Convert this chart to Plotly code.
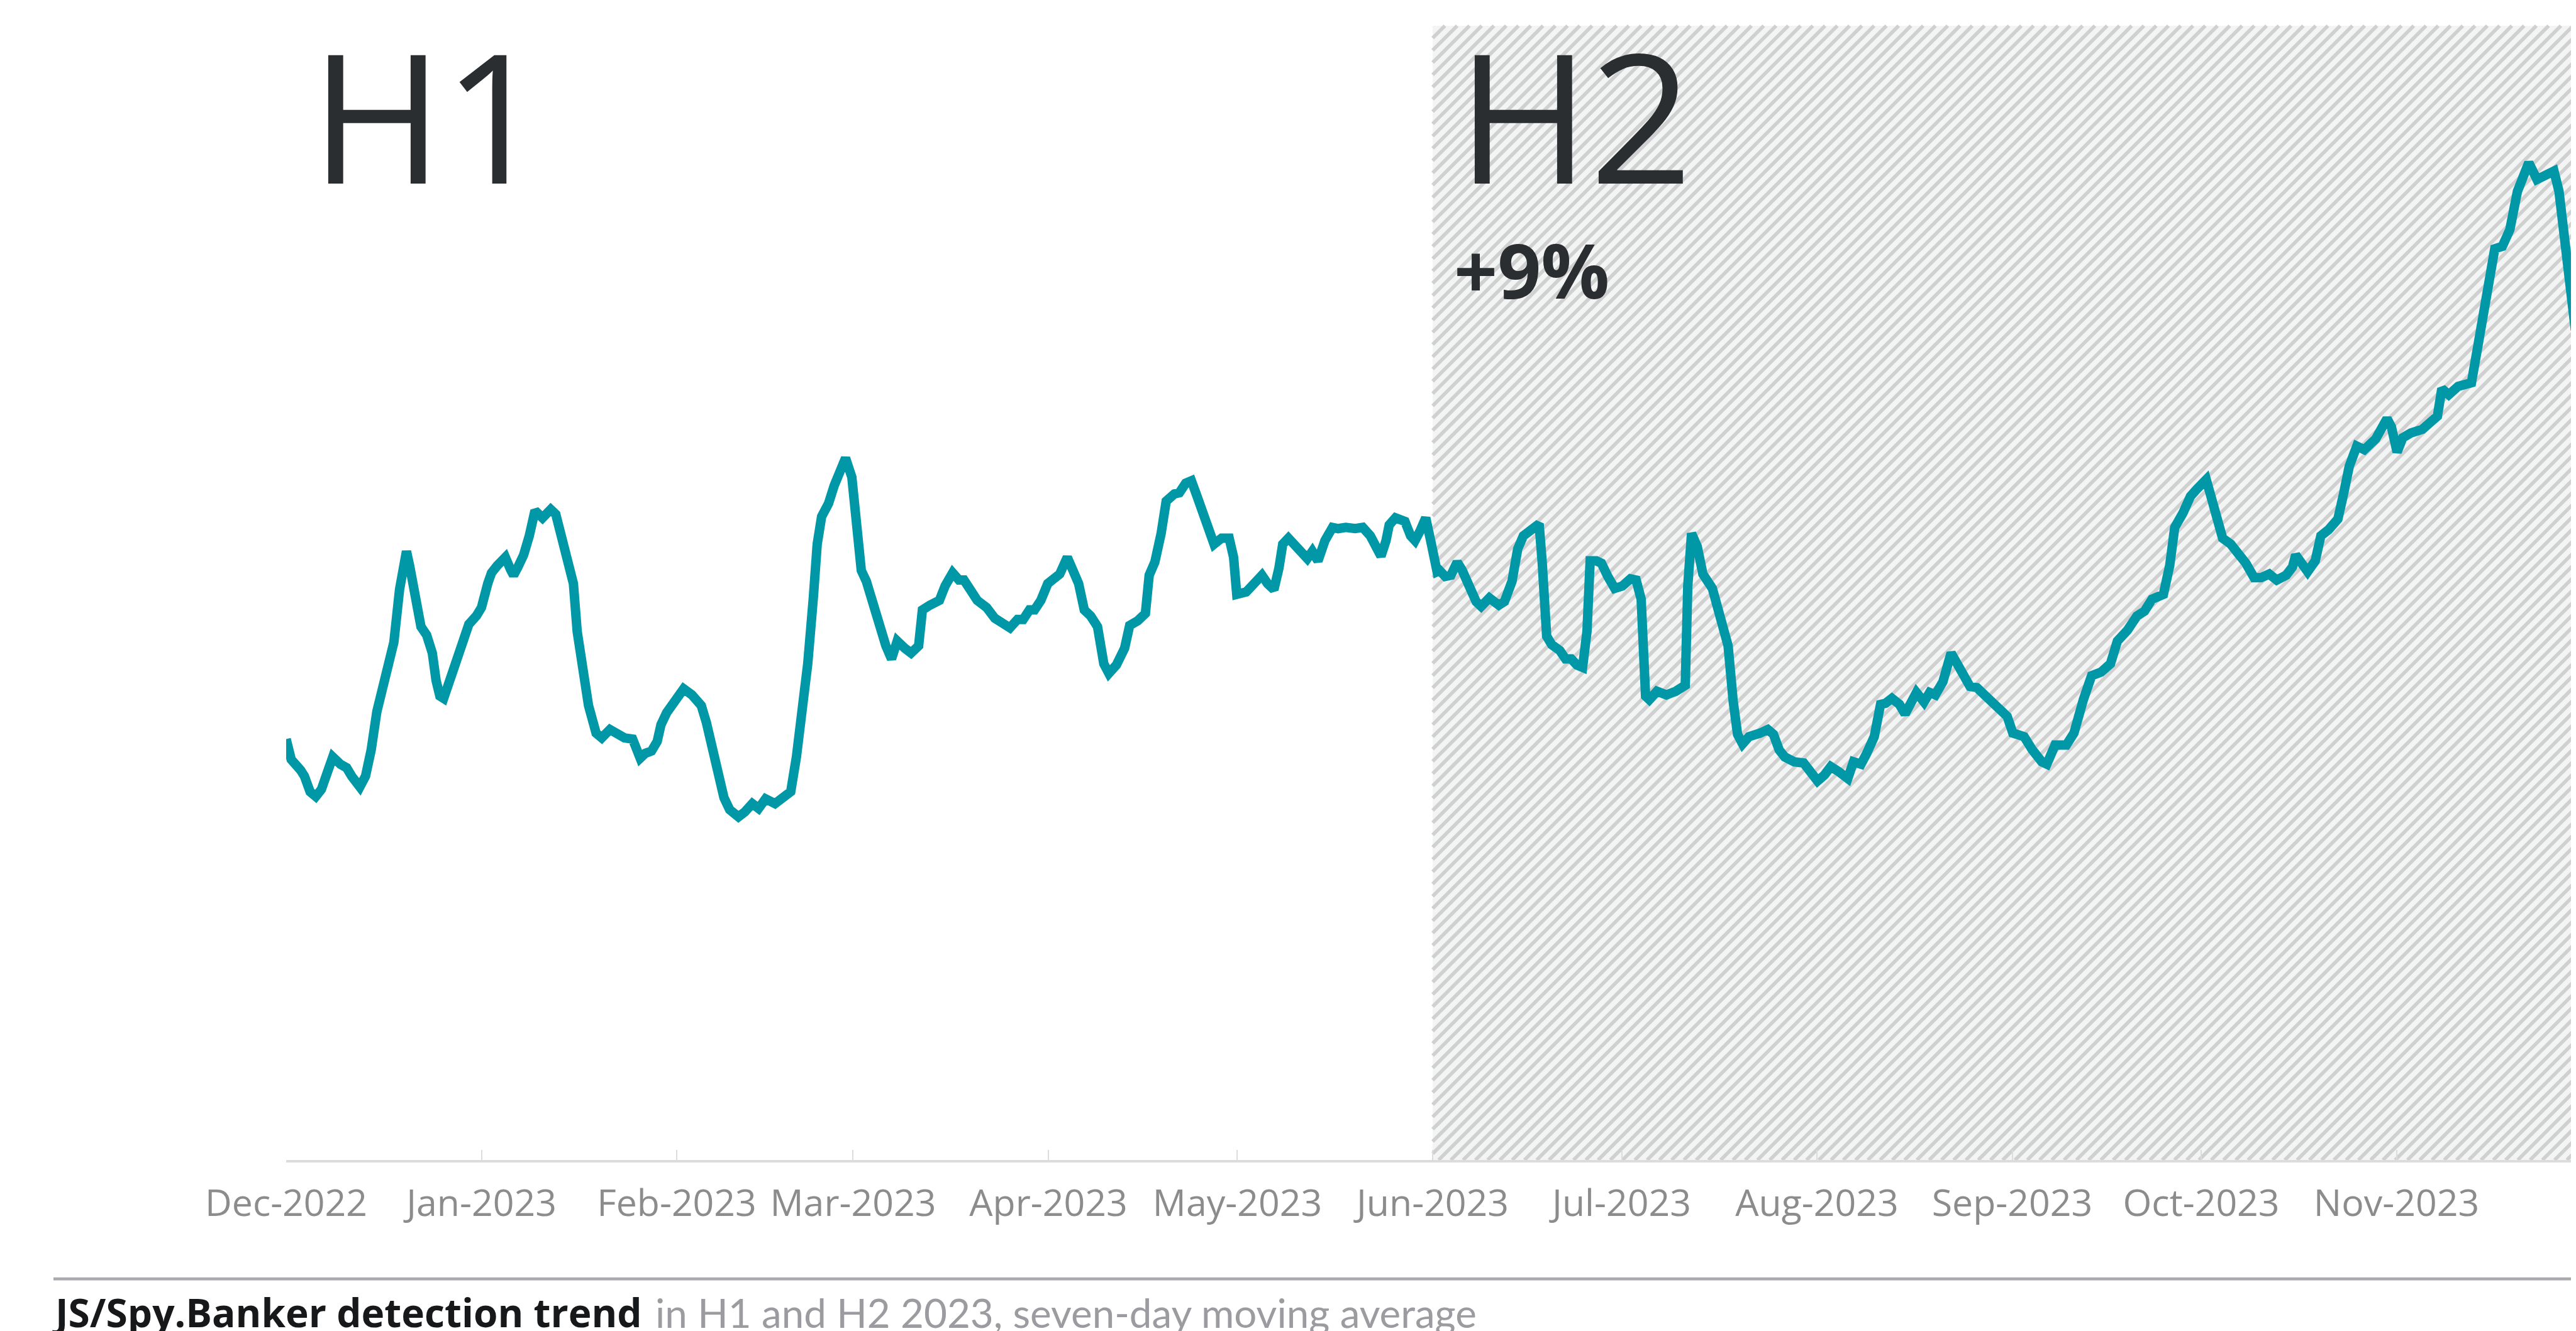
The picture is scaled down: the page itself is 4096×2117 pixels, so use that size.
import math
import pandas as pd
import plotly.graph_objects as go

# ---------------- data ----------------
START_DATE = "2022-12-01"
H2_START = "2023-06-01"

# days since START_DATE, seven-day moving average (arbitrary units)
days_dec_feb = [
    0.0, 0.8, 2.3, 2.9, 3.8, 4.7, 5.6, 6.5, 7.4, 8.6,
    9.6, 10.4, 11.7, 12.6, 13.5, 14.4, 15.3, 16.2, 17.1, 18.0,
    18.6, 19.1, 19.6, 20.5, 21.4, 22.3, 23.2, 23.8, 24.4, 25.0,
    25.6, 26.5, 27.4, 28.3, 29.0, 30.2, 31.0, 32.0, 32.6, 33.5,
    34.1, 34.8, 35.6, 36.1, 36.8, 37.7, 38.6, 39.2, 39.5, 40.7,
    42.0, 42.8, 43.8, 45.0, 45.6, 46.2, 47.1, 48.0, 49.2, 50.1,
    51.4, 52.6, 53.7, 55.0, 55.5, 56.2, 57.0, 58.0, 58.9, 59.5,
    60.4, 61.3, 62.3, 63.1, 64.4, 65.9, 66.7, 67.7, 68.6, 69.5,
    70.4, 71.8, 72.8, 74.0, 75.0, 76.1, 77.6, 79.2, 80.1, 81.0,
    81.9, 82.8, 83.7, 84.3, 85.0, 86.1, 87.0, 88.0, 88.8, 89.8,
    90.6, 91.3, 92.1,
]
vals_dec_feb = [
    352, 335, 326, 321, 308, 304, 310, 326, 337, 331,
    328, 321, 312, 321, 343, 375, 397, 415, 433, 477,
    502, 509, 497, 473, 446, 439, 424, 401, 388, 386,
    395, 410, 422, 437, 448, 455, 462, 482, 491, 497,
    500, 504, 494, 489, 496, 506, 522, 541, 543, 537,
    544, 540, 518, 500, 482, 442, 410, 380, 357, 353,
    360, 356, 353, 352, 346, 336, 340, 342, 350, 364,
    374, 381, 390, 394, 389, 380, 366, 343, 321, 303,
    293, 287, 291, 298, 294, 302, 298, 304, 308, 337,
    375, 415, 471, 515, 538, 549, 564, 580, 587, 571,
    531, 493, 484,
]

days_mar_may = [
    93.4, 94.4, 95.2, 96.1, 97.0, 98.2, 99.2, 100.4, 101.0, 102.2,
    103.7, 104.6, 105.8, 106.8, 107.6, 108.6, 109.7, 111.2, 112.5, 113.7,
    114.9, 116.1, 117.0, 118.0, 118.8, 119.8, 120.9, 122.8, 123.4, 124.0,
    124.9, 125.8, 126.7, 127.7, 128.8, 129.8, 130.6, 131.8, 133.1, 133.9,
    135.2, 136.4, 137.0, 137.9, 138.9, 139.7, 141.0, 141.8, 142.8, 143.7,
    144.6, 145.5, 146.4, 147.3, 148.5, 149.7, 150.4, 150.9, 152.4, 153.7,
    154.9, 155.8, 156.8, 157.6, 158.2, 159.1, 160.3, 161.3, 162.1, 162.9,
    163.8, 164.9, 166.1, 167.0, 168.2, 169.7, 170.9, 172.1, 173.0, 173.8,
    174.6, 175.1, 176.1, 177.6, 178.5, 179.2, 180.0, 180.9, 181.8, 182.7,
]
vals_mar_may = [
    460, 439, 430, 419, 434, 428, 424, 430, 460, 464,
    468, 480, 491, 485, 485, 477, 468, 462, 453, 449,
    445, 452, 452, 460, 460, 468, 482, 490, 500, 504,
    493, 482, 460, 455, 446, 415, 407, 414, 428, 447,
    451, 457, 489, 500, 524, 551, 557, 558, 566, 568,
    555, 542, 524, 515, 520, 520, 504, 473, 475, 483,
    489, 482, 477, 495, 515, 520, 513, 506, 503, 509,
    501, 518, 529, 528, 529, 528, 529, 522, 513, 505,
    518, 531, 537, 534, 522, 518, 526, 537, 515, 492,
]

days_jun_aug = [
    183.1, 184.0, 184.9, 185.9, 186.7, 187.9, 188.9, 189.7, 191.0, 192.5,
    193.4, 194.6, 195.5, 196.4, 197.6, 198.9, 199.4, 200.1, 200.9, 202.2,
    203.1, 204.0, 204.9, 205.8, 206.5, 207.0, 208.0, 208.8, 209.8, 210.9,
    212.1, 213.4, 214.3, 215.1, 215.8, 216.4, 217.6, 219.1, 220.6, 222.1,
    222.5, 223.1, 224.0, 224.9, 226.4, 227.6, 228.9, 229.7, 230.4, 231.2,
    232.2, 234.0, 235.2, 236.1, 237.0, 237.9, 239.4, 240.9, 241.9, 243.1,
    244.2, 245.2, 246.4, 247.9, 248.8, 250.0, 250.9, 252.1, 253.1, 253.9,
    254.9, 256.1, 257.0, 257.9, 258.8, 260.0, 260.9, 261.8, 263.0, 264.3,
    265.1, 266.3, 267.3, 268.4,
]
vals_jun_aug = [
    493, 488, 489, 500, 493, 480, 467, 463, 470, 464,
    467, 484, 511, 522, 528, 532, 499, 438, 431, 426,
    419, 419, 414, 412, 442, 501, 501, 499, 488, 478,
    480, 486, 485, 469, 388, 385, 392, 389, 392, 397,
    480, 524, 513, 490, 478, 453, 430, 384, 356, 348,
    354, 357, 360, 356, 343, 337, 333, 332, 325, 317,
    322, 329, 325, 319, 333, 331, 340, 354, 381, 382,
    386, 381, 373, 384, 391, 383, 391, 389, 400, 424,
    417, 404, 396, 395,
]

days_sep_nov = [
    270.4, 271.9, 273.2, 274.1, 275.9, 277.2, 278.7, 279.5, 280.8, 282.6,
    283.8, 285.3, 286.6, 288.1, 289.6, 290.7, 292.3, 293.8, 295.0, 296.2,
    298.0, 299.0, 299.8, 301.1, 302.3, 303.3, 304.8, 305.6, 306.6, 307.4,
    308.7, 309.9, 311.1, 312.4, 313.5, 314.8, 316.0, 317.5, 318.5, 319.0,
    320.0, 320.9, 322.1, 323.0, 324.2, 325.7, 326.6, 327.5, 328.7, 329.9,
    331.7, 332.7, 333.5, 334.2, 335.1, 336.0, 337.3, 339.1, 340.6, 341.5,
    342.2, 343.3, 344.8, 346.9, 347.9, 349.4, 350.6, 351.8, 353.0, 354.2,
    356.0, 357.3, 358.5, 360.0, 360.8, 361.8, 362.8, 363.4,
]
vals_sep_nov = [
    385, 375, 371, 357, 354, 343, 333, 331, 347, 347,
    357, 385, 405, 408, 415, 434, 443, 455, 459, 469,
    473, 497, 529, 541, 555, 561, 569, 554, 533, 520,
    515, 508, 499, 487, 487, 490, 485, 489, 496, 506,
    497, 492, 501, 522, 527, 536, 557, 580, 597, 594,
    603, 615, 620, 613, 592, 604, 608, 611, 617, 622,
    645, 640, 647, 650, 680, 729, 762, 764, 778, 810,
    834, 820, 824, 827, 810, 771, 718, 694,
]

tick_dates = ["2022-12-01", "2023-01-01", "2023-02-01", "2023-03-01",
              "2023-04-01", "2023-05-01", "2023-06-01", "2023-07-01",
              "2023-08-01", "2023-09-01", "2023-10-01", "2023-11-01"]
tick_labels = ["Dec-2022", "Jan-2023", "Feb-2023", "Mar-2023", "Apr-2023",
               "May-2023", "Jun-2023", "Jul-2023", "Aug-2023", "Sep-2023",
               "Oct-2023", "Nov-2023"]

Y_MAX = 948.5

# ---------------- build series ----------------
days = days_dec_feb + days_mar_may + days_jun_aug + days_sep_nov
vals = vals_dec_feb + vals_mar_may + vals_jun_aug + vals_sep_nov
start = pd.Timestamp(START_DATE)
dates = [start + pd.Timedelta(days=d) for d in days]
end = dates[-1]

# ---------------- layout geometry ----------------
W, H = 4096, 2117
ML, MR, MT, MB = 447, 9, 33, 280
PW = W - ML - MR
PH = H - MT - MB


def pxx(xp):
    return (xp - ML) / PW


def pxy(yp):
    return (H - MB - yp) / PH


span_days = (end - start).total_seconds() / 86400.0
h2_frac = (pd.Timestamp(H2_START) - start).total_seconds() / 86400.0 / span_days

# hatch stripes (paper coordinates), '/' direction
theta = math.radians(45)
k = 1.0 / math.tan(theta)
period = 19.5
hx0 = h2_frac * PW
hw = PW - hx0
hh = PH
segs = []
c = -hh * k
while c < hw:
    vmin = max(0.0, (0.0 - c) / k)
    vmax = min(hh, (hw - c) / k)
    if vmax > vmin:
        u0, u1 = c + k * vmin, c + k * vmax
        segs.append("M{:.5f},{:.5f}L{:.5f},{:.5f}".format(
            (hx0 + u0) / PW, vmin / PH, (hx0 + u1) / PW, vmax / PH))
    c += period
hatch_path = "".join(segs)

fig = go.Figure()
fig.add_trace(go.Scatter(
    x=dates, y=vals, mode="lines",
    line=dict(color="#0097a7", width=15),
    hoverinfo="skip", showlegend=False,
))

shapes = [
    dict(type="rect", xref="paper", yref="paper", x0=h2_frac, x1=1, y0=0, y1=1,
         fillcolor="#f3f4f4", line=dict(width=0), layer="below"),
    dict(type="path", xref="paper", yref="paper", path=hatch_path,
         line=dict(color="#d0d0d0", width=5.8), layer="below"),
    dict(type="line", xref="paper", yref="paper", x0=pxx(77), x1=pxx(W + 5),
         y0=pxy(2026), y1=pxy(2026), line=dict(color="#a9a9ae", width=4.75)),
]

annotations = [
    dict(text="H1", xref="paper", yref="paper", x=pxx(484.6), y=pxy(173.3),
         xanchor="left", yanchor="middle", showarrow=False, borderpad=0,
         font=dict(family="Open Sans", size=286, color="#2a2e31", weight=400)),
    dict(text="H2", xref="paper", yref="paper", x=pxx(2307.7), y=pxy(173.3),
         xanchor="left", yanchor="middle", showarrow=False, borderpad=0,
         font=dict(family="Open Sans", size=286, color="#2a2e31", weight=400)),
    dict(text="+9%", xref="paper", yref="paper", x=pxx(2303), y=pxy(420),
         xanchor="left", yanchor="middle", showarrow=False, borderpad=0,
         font=dict(family="Open Sans", size=121, color="#2a2e31", weight=700)),
    dict(text="JS/Spy.Banker detection trend",
         xref="paper", yref="paper", x=pxx(74), y=pxy(2079),
         xanchor="left", yanchor="middle", showarrow=False, borderpad=0,
         font=dict(family="Open Sans", size=62.2, color="#16181a", weight=700)),
    dict(text="in H1 and H2 2023, seven-day moving average",
         xref="paper", yref="paper", x=pxx(1033), y=pxy(2079),
         xanchor="left", yanchor="middle", showarrow=False, borderpad=0,
         font=dict(family="Lato", size=63.7, color="#9b9ba0", weight=400)),
]

fig.update_layout(
    width=W, height=H,
    margin=dict(l=ML, r=MR, t=MT, b=MB, pad=0),
    paper_bgcolor="white", plot_bgcolor="white",
    shapes=shapes, annotations=annotations,
    xaxis=dict(
        type="date", range=[start, end],
        tickvals=tick_dates, ticktext=tick_labels,
        showgrid=False, zeroline=False,
        showline=True, linecolor="#dcdcdc", linewidth=3.5,
        ticks="inside", ticklen=16, tickwidth=2, tickcolor="#dcdcdc",
        tickfont=dict(family="Open Sans", size=59, color="#8c8c8c"),
        ticklabelstandoff=14,
    ),
    yaxis=dict(range=[0, Y_MAX], visible=False, showgrid=False, zeroline=False),
)

fig.write_html("out.html")
